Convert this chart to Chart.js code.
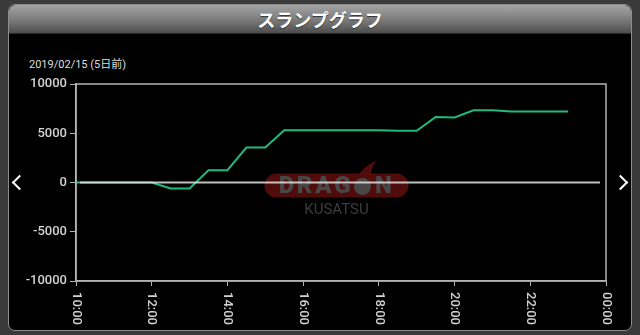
<!DOCTYPE html>
<html>
<head>
<meta charset="utf-8">
<script src="https://cdn.jsdelivr.net/npm/chart.js@4/dist/chart.umd.min.js"></script>
<style>
  html, body { margin: 0; padding: 0; }
  body { width: 640px; height: 335px; background: #3a3a3a; position: relative; overflow: hidden; font-family: Roboto, "Noto Sans CJK JP", sans-serif; }
  .panel { position: absolute; left: 8px; top: 4px; width: 622px; height: 325px; background: #000; border: 1px solid #8c8c8c; border-radius: 7px; overflow: hidden; }
  .header { height: 28px; background: linear-gradient(#a4a4a4, #7a7a7a 55%, #4c4c4c); border-bottom: 1px solid #2a2a2a; text-align: center; color: #fff; font: bold 18px "Noto Sans CJK JP", sans-serif; line-height: 28px; text-shadow: 0 1px 1px #333; border-radius: 6px 6px 0 0; }
  .date { position: absolute; left: 20px; top: 50px; color: #ddd; font: 11px Roboto, "Noto Sans CJK JP", sans-serif; }
  canvas { position: absolute; left: 0; top: 0; }
  .arrow { position: absolute; width: 9px; height: 9px; border-left: 2px solid #fff; border-bottom: 2px solid #fff; }
  .arrow.l { left: 14px; top: 177px; transform: rotate(45deg); }
  .arrow.r { left: 615px; top: 177px; transform: rotate(-135deg); }
</style>
</head>
<body>
<div class="panel">
  <div class="header">スランプグラフ</div>
  <div class="date">2019/02/15 (5日前)</div>
</div>
<canvas id="slump" width="640" height="335"></canvas>
<div class="arrow l"></div>
<div class="arrow r"></div>
<script>
// hours of the day (24 = 00:00 next day)
var times = [10, 10.5, 11, 11.5, 12, 12.5, 13, 13.5, 14, 14.5, 15, 15.5, 16, 16.5, 17, 17.5, 18, 18.5, 19, 19.5, 20, 20.5, 21, 21.5, 22, 22.5, 23];
var coins = [0, 0, 0, 0, 0, -600, -600, 1250, 1250, 3550, 3550, 5300, 5300, 5300, 5300, 5300, 5300, 5250, 5250, 6650, 6600, 7330, 7330, 7200, 7200, 7200, 7200];
var xMin = 10, xMax = 24, xStep = 2;
var yMin = -10000, yMax = 10000, yStep = 5000;

function hourLabel(v) {
    var h = v % 24;
    return (h < 10 ? '0' : '') + h + ':00';
}

var axisColor = '#b4b4b4';
var labelColor = '#d2d2d2';

var watermark = {
    id: 'watermark',
    beforeDatasetsDraw: function (chart) {
	var a = chart.chartArea, ctx = chart.ctx;
	var cx = (a.left + a.right) / 2 - 4.5, cy = (a.top + a.bottom) / 2 + 3;
	ctx.save();
	ctx.fillStyle = 'rgba(100,14,14,0.8)';
	ctx.beginPath();
	ctx.roundRect(cx - 72, cy - 12, 144, 24, 12);
	ctx.fill();
	// little flame over the "O"
	ctx.beginPath();
	ctx.moveTo(cx + 22, cy - 11);
	ctx.quadraticCurveTo(cx + 30, cy - 21, cx + 40, cy - 25);
	ctx.quadraticCurveTo(cx + 34, cy - 17, cx + 35, cy - 11);
	ctx.fill();
	ctx.fillStyle = '#474747';
	ctx.font = '900 24px Roboto';
	ctx.textBaseline = 'middle';
	ctx.textAlign = 'center';
	[['D', -50], ['R', -32], ['A', -13], ['G', 6], ['N', 47]].forEach(function (l) {
	    ctx.fillText(l[0], cx + l[1], cy + 1);
	});
	ctx.beginPath();
	ctx.arc(cx + 26, cy + 1, 8.5, 0, Math.PI * 2);
	ctx.fill();
	ctx.fillStyle = '#3c3c3c';
	ctx.font = '15px Roboto';
	ctx.fillText('KUSATSU', cx + 0, cy + 25);
	ctx.restore();
    }
};

var frame = {
    id: 'frame',
    afterDatasetsDraw: function (chart) {
	var a = chart.chartArea, ctx = chart.ctx;
	var y0 = chart.scales.y.getPixelForValue(0);
	ctx.save();
	ctx.strokeStyle = 'rgba(225,225,225,0.85)';
	ctx.lineWidth = 2;
	ctx.beginPath();
	ctx.moveTo(a.left + 4, y0);
	ctx.lineTo(a.right - 6, y0);
	ctx.stroke();
	ctx.strokeStyle = axisColor;
	ctx.lineWidth = 1.5;
	ctx.strokeRect(a.left, a.top, a.right - a.left, a.bottom - a.top);
	// x tick labels, rotated clockwise
	var xs = chart.scales.x;
	ctx.fillStyle = labelColor;
	ctx.font = '500 13px Roboto';
	ctx.textAlign = 'left';
	ctx.textBaseline = 'middle';
	xs.ticks.forEach(function (t) {
	    var px = xs.getPixelForValue(t.value);
	    ctx.save();
	    ctx.translate(px, a.bottom + 11);
	    ctx.rotate(Math.PI / 2);
	    ctx.fillText(hourLabel(t.value), 0, 0);
	    ctx.restore();
	});
	ctx.restore();
    }
};

new Chart(document.getElementById('slump'), {
    type: 'line',
    data: {
	datasets: [{
	    data: times.map(function (t, i) { return { x: t, y: coins[i] }; }),
	    borderColor: '#22b97c',
	    borderWidth: 2,
	    pointRadius: 0,
	    tension: 0,
	    fill: false
	}]
    },
    options: {
	responsive: false,
	animation: false,
	layout: { padding: { left: 0, right: 34, top: 84, bottom: 0 } },
	plugins: { legend: { display: false }, tooltip: { enabled: false } },
	scales: {
	    x: {
		type: 'linear',
		min: xMin, max: xMax,
		afterFit: function (s) { s.height = 54; },
		grid: { drawOnChartArea: false, color: 'transparent', tickColor: axisColor, tickLength: 5 },
		border: { color: axisColor, width: 1.5 },
		ticks: { stepSize: xStep, color: 'transparent', maxRotation: 0, autoSkip: false, callback: hourLabel }
	    },
	    y: {
		min: yMin, max: yMax,
		afterFit: function (s) { s.width = 76; },
		grid: { drawOnChartArea: false, color: 'transparent', tickColor: axisColor, tickLength: 6 },
		border: { color: axisColor, width: 1.5 },
		ticks: { stepSize: yStep, color: labelColor, padding: 3, font: { family: 'Roboto', size: 13, weight: '500' },
			 callback: function (v) { return String(v); } }
	    }
	}
    },
    plugins: [watermark, frame]
});
</script>
</body>
</html>
